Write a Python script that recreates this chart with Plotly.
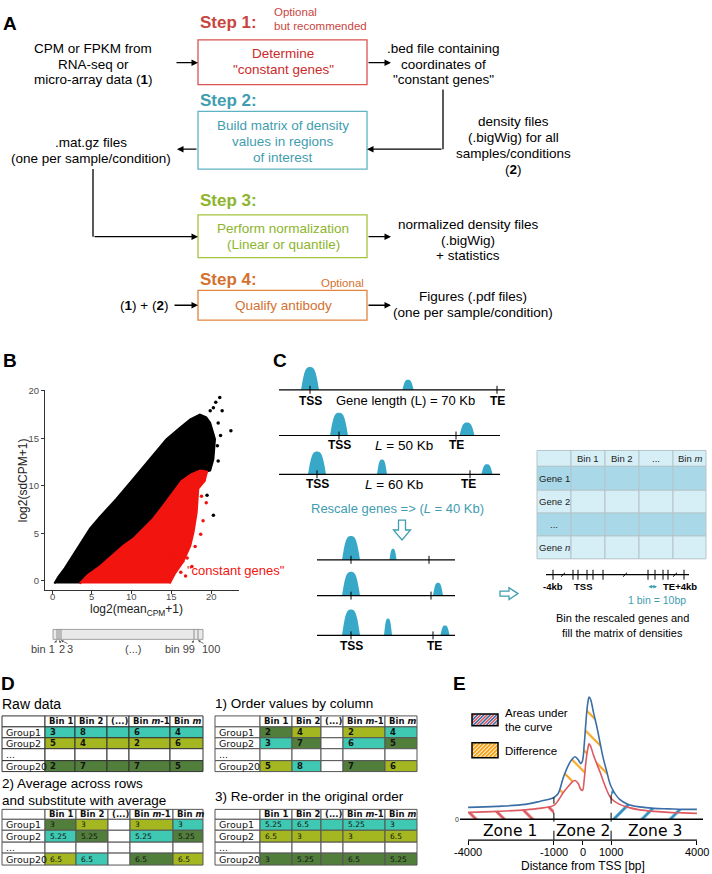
import plotly.graph_objects as go

W, H = 712, 874
SANS = "Liberation Sans, Arial, sans-serif"
DJV = "DejaVu Sans, Verdana, sans-serif"

# ===================== DATA =====================
# Panel B: outlines of the dense point clouds + isolated points
black_cloud_x = [0.3, 0.8, 1.6, 2.3, 3.1, 4.8, 6.0, 8.1, 10.2, 12.3, 14.4, 16.1, 17.4, 18.6, 19.4, 19.9, 20.5,
                 20.3, 19.9, 19.5, 18.6, 17.5, 16.3, 15.3, 14.0, 12.7, 11.5, 10.2, 9.0, 7.5, 6.0, 4.5, 3.5]
black_cloud_y = [-0.3, 0.4, 1.3, 2.2, 3.2, 5.5, 6.7, 8.6, 10.7, 12.8, 14.9, 16.1, 17.0, 17.5, 17.2, 16.6, 14.9,
                 12.8, 11.6, 11.5, 11.6, 11.2, 10.5, 9.3, 7.9, 6.5, 5.5, 4.4, 3.7, 2.6, 1.5, 0.6, -0.3]
red_cloud_x = [3.5, 4.5, 6.0, 7.5, 9.0, 10.2, 11.5, 12.7, 14.0, 15.3, 16.3, 17.5, 18.6, 19.5, 19.2, 18.4, 18.2,
               17.8, 17.4, 16.5, 15.5, 14.8]
red_cloud_y = [-0.3, 0.6, 1.5, 2.6, 3.7, 4.4, 5.5, 6.5, 7.9, 9.3, 10.5, 11.2, 11.6, 11.5, 10.5, 9.7, 7.2,
               5.1, 3.7, 2.0, 0.8, -0.3]
black_pts_x = [21.1, 20.6, 21.4, 20.3, 20.9, 22.5, 20.3, 19.5, 20.8, 21.2, 19.9, 20.9]
black_pts_y = [19.3, 18.8, 17.9, 18.2, 16.6, 15.8, 6.9, 9.0, 14.2, 15.3, 17.9, 12.6]
red_pts_x = [14.6, 16.2, 17.0, 18.0, 18.7, 19.0, 19.4, 18.8, 13.8, 17.6, 19.1, 16.8]
red_pts_y = [0.1, 0.9, 2.4, 3.6, 4.9, 6.3, 8.2, 8.9, 0.0, 1.5, 10.6, 0.5]
b_ticks = [0, 5, 10, 15, 20]

# Panel C: matrix labels
c_cols = ["Bin 1", "Bin 2", "...", "Bin <i>m</i>"]
c_rows = ["Gene 1", "Gene 2", "...", "Gene <i>n</i>"]

# Panel D: tables
d_cols = ["Bin 1", "Bin 2", "(...)", "Bin <i>m</i>-1", "Bin <i>m</i>"]
d_rows = ["Group1", "Group2", "...", "Group20"]
raw_vals = [["3", "8", "", "6", "4"], ["5", "4", "", "2", "6"], ["", "", "", "", ""], ["2", "7", "", "7", "5"]]
raw_fill = [["T"] * 5, ["Y"] * 5, ["W"] * 5, ["G"] * 5]
sort_vals = [["2", "4", "", "2", "4"], ["3", "7", "", "6", "5"], ["", "", "", "", ""], ["5", "8", "", "7", "6"]]
sort_fill = [["G", "Y", "W", "Y", "T"], ["T", "G", "W", "T", "G"], ["W"] * 5, ["Y", "T", "W", "G", "Y"]]
avg_vals = [["3", "3", "", "3", "3"], ["5.25", "5.25", "", "5.25", "5.25"], ["", "", "", "", ""],
            ["6.5", "6.5", "", "6.5", "6.5"]]
avg_fill = [["G", "Y", "W", "Y", "T"], ["T", "G", "W", "T", "G"], ["W"] * 5, ["Y", "T", "W", "G", "Y"]]
reord_vals = [["5.25", "6.5", "", "5.25", "3"], ["6.5", "3", "", "3", "6.5"], ["", "", "", "", ""],
              ["3", "5.25", "", "6.5", "5.25"]]
reord_fill = [["T"] * 5, ["Y"] * 5, ["W"] * 5, ["G"] * 5]

# Panel E: profiles (distance from TSS in bp, density)
e_x = [-4000, -3000, -2000, -1500, -1000, -850, -670, -500, -380, -260, -150, -60, 0, 60, 120, 180, 230, 290,
       380, 510, 620, 720, 840, 1000, 1300, 1600, 2000, 2500, 3000, 3500, 4000]
e_blue = [1.2, 1.3, 1.5, 1.8, 2.2, 2.6, 4.2, 5.4, 6.0, 6.3, 6.0, 5.6, 5.9, 7.5, 9.8, 11.6, 12.3, 12.0,
          10.8, 9.2, 7.6, 6.2, 4.9, 3.3, 2.0, 1.5, 1.25, 1.1, 1.05, 1.0, 1.0]
e_red = [0.7, 0.8, 0.95, 1.1, 1.4, 1.9, 2.7, 3.3, 3.7, 3.9, 3.6, 3.0, 2.9, 4.0, 5.8, 7.0, 7.6, 7.3,
         6.5, 5.5, 4.7, 3.9, 3.0, 2.1, 1.5, 1.2, 0.95, 0.8, 0.7, 0.65, 0.6]
e_ticks = [-4000, -1000, 0, 1000, 4000]
zone_names = ["Zone 1", "Zone 2", "Zone 3"]
zone_centers = [-2535, 0, 2535]
zone_bounds = [-1000, 1000]

# ===================== HELPERS =====================
fig = go.Figure()
shapes, annots = [], []


def L(x0, y0, x1, y1, c="black", w=1.0, dash=None, xr="x", yr="y"):
    shapes.append(dict(type="line", x0=x0, y0=y0, x1=x1, y1=y1, xref=xr, yref=yr,
                       line=dict(color=c, width=w, dash=dash)))


def R(x0, y0, x1, y1, fill="rgba(0,0,0,0)", lc="black", lw=1.0):
    shapes.append(dict(type="rect", x0=x0, y0=y0, x1=x1, y1=y1, xref="x", yref="y",
                       fillcolor=fill, line=dict(color=lc, width=lw)))


def P(path, fill, lc=None, lw=0.0):
    shapes.append(dict(type="path", path=path, xref="x", yref="y", fillcolor=fill,
                       line=dict(color=lc or fill, width=lw)))


def T(x, y, s, size=13.5, c="black", xa="center", fam=SANS, ang=0, xr="x", yr="y"):
    annots.append(dict(x=x, y=y, xref=xr, yref=yr, text=s, showarrow=False, xanchor=xa,
                       yanchor="middle", textangle=ang, font=dict(size=size, color=c, family=fam)))


def A(x0, y0, x1, y1, c="black", w=1.3, size=1.0, side="end"):
    annots.append(dict(x=x1, y=y1, ax=x0, ay=y0, xref="x", yref="y", axref="x", ayref="y",
                       text="", showarrow=True, arrowhead=2, arrowsize=size, arrowwidth=w,
                       arrowcolor=c, arrowside=side, startarrowhead=2, startarrowsize=size))


def dom_x(a, b):
    return [a / W, b / W]


def dom_y(top, bottom):
    return [1 - bottom / H, 1 - top / H]


# canvas placeholder trace
fig.add_trace(go.Scatter(x=[0], y=[0], mode="markers", marker=dict(opacity=0), hoverinfo="skip",
                         xaxis="x", yaxis="y"))

# ===================== PANEL A =====================
RED, TEAL, GRN, ORG = "#c8453f", "#3f9db0", "#8db52c", "#d4712f"
T(10, 19, "<b>A</b>", 19)
T(198, 18, "<b>Step 1:</b>", 17, RED, xa="left")
T(272, 7, "Optional", 11.5, RED, xa="left")
T(272, 21, "but recommended", 11.5, RED, xa="left")
R(198, 35, 367, 80, lc="#d9534f", lw=1.3)
T(283, 49, "Determine", 13.5, "#cc2a2a")
T(283, 65, '"constant genes"', 13.5, "#cc2a2a")
for i, s in enumerate(["CPM or FPKM from", "RNA-seq or", "micro-array data (<b>1</b>)"]):
    T(93, 44 + 15.5 * i, s)
A(175, 58, 198, 58)
A(367, 58, 391, 58)
for i, s in enumerate([".bed file containing", "coordinates of", '"constant genes"']):
    T(443, 44 + 15.5 * i, s)

T(198, 96, "<b>Step 2:</b>", 17, TEAL, xa="left")
R(198, 107, 367, 165, lc="#5fb3c3", lw=1.3)
for i, s in enumerate(["Build matrix of density", "values in regions", "of interest"]):
    T(283, 121 + 16 * i, s, 13.5, TEAL)
for i, s in enumerate(["density files", "(.bigWig) for all", "samples/conditions", "(<b>2</b>)"]):
    T(513, 117 + 16 * i, s)
L(443, 85, 443, 145, w=1.3)
A(443, 145, 367, 145)
A(198, 145, 177, 145)
T(91, 138, ".mat.gz files")
T(91, 154, "(one per sample/condition)")
L(93, 165, 93, 233, w=1.3)
A(93, 233, 198, 233)

T(198, 197, "<b>Step 3:</b>", 17, GRN, xa="left")
R(198, 211, 367, 254, lc="#a5c43c", lw=1.3)
T(283, 225, "Perform normalization", 13.5, GRN)
T(283, 241, "(Linear or quantile)", 13.5, GRN)
A(367, 233, 391, 233)
for i, s in enumerate(["normalized density files", "(.bigWig)", "+ statistics"]):
    T(468, 221 + 15.5 * i, s)

T(198, 276, "<b>Step 4:</b>", 17, ORG, xa="left")
T(366, 280, "Optional", 11.5, ORG, xa="right")
R(198, 287, 367, 317, lc="#e0843f", lw=1.3)
T(283, 302, "Qualify antibody", 13.5, ORG)
T(144, 302, "(<b>1</b>) + (<b>2</b>)")
A(173, 302, 198, 302)
A(367, 302, 391, 302)
T(473, 293, "Figures (.pdf files)")
T(473, 309, "(one per sample/condition)")

# ===================== PANEL B =====================
T(10, 358, "<b>B</b>", 19)
BRED = "#f2140f"
fig.add_trace(go.Scatter(x=black_cloud_x, y=black_cloud_y, fill="toself", fillcolor="black", mode="lines",
                         line=dict(color="black", width=2), xaxis="x2", yaxis="y2", hoverinfo="skip"))
fig.add_trace(go.Scatter(x=red_cloud_x, y=red_cloud_y, fill="toself", fillcolor=BRED, mode="lines",
                         line=dict(color=BRED, width=2), xaxis="x2", yaxis="y2", hoverinfo="skip"))
fig.add_trace(go.Scatter(x=black_pts_x, y=black_pts_y, mode="markers", marker=dict(size=3.5, color="black"),
                         xaxis="x2", yaxis="y2", hoverinfo="skip"))
fig.add_trace(go.Scatter(x=red_pts_x, y=red_pts_y, mode="markers", marker=dict(size=3.5, color=BRED),
                         xaxis="x2", yaxis="y2", hoverinfo="skip"))
for v in b_ticks:
    T(v, 595, str(v), 9.5, "#4d4d4d", xr="x2", yr="y")
T(23, 478, "log2(sdCPM+1)", 12, "#222", ang=-90)
T(136, 608, "log2(mean<sub>CPM</sub>+1)", 12, "#222")
T(236, 569, '"constant genes"', 13, BRED)
A(186, 561, 163, 550, c=BRED, w=1.2, size=0.8)
# bin bar
R(53, 628, 203, 638, fill="#e9e9e9", lc="#8a8a8a", lw=0.8)
for xb in [57, 59, 61, 194, 198]:
    L(xb, 628, xb, 638, "#777", 0.8)
for xt, s in [(43, "bin 1"), (62, "2"), (70, "3"), (133, "(...)"), (180, "bin 99"), (211, "100")]:
    T(xt, 648, s, 11, "#444")
for (x0, y0, x1, y1) in [(53, 643, 57, 639), (62, 643, 59, 639), (69, 643, 61, 639), (191, 643, 194, 639),
                         (205, 643, 198, 639)]:
    A(x0, y0, x1, y1, c="#555", w=0.8, size=0.6)

# ===================== PANEL C =====================
T(280, 358, "<b>C</b>", 19)
PEAK = "#38a8c8"
genes_before = [
    dict(y=387, x0=279, x1=505, ticks=[310, 497], peaks=[(310, 18, 23), (408, 11, 10)]),
    dict(y=433, x0=279, x1=500, ticks=[339, 456], peaks=[(339, 18, 23), (467, 15, 13)]),
    dict(y=472, x0=279, x1=500, ticks=[317, 470], peaks=[(317, 18, 23), (382, 10, 15), (487, 11, 10)]),
]
genes_after = [
    dict(y=558, x0=317, x1=455, ticks=[351, 429], peaks=[(351, 18, 24), (393, 7, 11)]),
    dict(y=594, x0=317, x1=455, ticks=[351, 431], peaks=[(351, 18, 24), (438, 10, 13)]),
    dict(y=634, x0=317, x1=455, ticks=[351, 433], peaks=[(351, 18, 26), (388, 8, 17), (445, 9, 10)]),
]


def bump(cx, y, w, h):
    x0, x1 = cx - w / 2, cx + w / 2
    return (f"M {x0},{y} C {x0 + 0.18 * w},{y - 0.85 * h} {cx - 0.25 * w},{y - h} {cx},{y - h} "
            f"C {cx + 0.25 * w},{y - h} {x1 - 0.18 * w},{y - 0.85 * h} {x1},{y} Z")


for g in genes_before + genes_after:
    for (cx, w, h) in g["peaks"]:
        P(bump(cx, g["y"], w, h), PEAK)
    L(g["x0"], g["y"], g["x1"], g["y"], w=1.2)
    for tx in g["ticks"]:
        L(tx, g["y"] - 4, tx, g["y"] + 4, w=1)

T(310, 398, "<b>TSS</b>", 12)
T(405, 398, "Gene length (L) = 70 Kb", 13)
T(497, 398, "<b>TE</b>", 12)
T(339, 443, "<b>TSS</b>", 12)
T(404, 443, "<i>L</i> = 50 Kb", 13.5)
T(456, 443, "<b>TE</b>", 12)
T(317, 482, "<b>TSS</b>", 12)
T(394, 482, "<i>L</i> = 60 Kb", 13.5)
T(468, 482, "<b>TE</b>", 12)
T(397, 506, "Rescale genes => (<i>L</i> = 40 Kb)", 13, TEAL)
T(351, 645, "<b>TSS</b>", 12)
T(434, 645, "<b>TE</b>", 12)
# hollow arrows
P("M 398.5,518 L 405.5,518 L 405.5,528 L 410.5,528 L 402,538 L 393.5,528 L 398.5,528 Z", "white", TEAL, 1.3)
P("M 500,589.5 L 509,589.5 L 509,586 L 518,592 L 509,598 L 509,594.5 L 500,594.5 Z", "white", TEAL, 1.3)

# matrix
mx = [537, 571, 605, 639, 673, 706]
my = [448, 464, 488, 511, 534, 557]
LIGHT, DARK = "#d6eef6", "#a9d9e9"
row_fill = [LIGHT, DARK, LIGHT, DARK, LIGHT]
for i in range(5):
    for j in range(5):
        R(mx[j], my[i], mx[j + 1], my[i + 1], fill=row_fill[i], lc="#b4c4ca", lw=1)
for j, s in enumerate(c_cols):
    T((mx[j + 1] + mx[j + 2]) / 2, (my[0] + my[1]) / 2, s, 9.5, "#222")
for i, s in enumerate(c_rows):
    T((mx[0] + mx[1]) / 2, (my[i + 1] + my[i + 2]) / 2, s, 9.5, "#222")

# bin axis
L(546, 573, 689, 573, w=1.2)
for tx in [553, 573, 578, 587, 593, 603, 648, 655, 663, 668, 684]:
    L(tx, 568, tx, 578, w=1)
for bx in [563, 625, 675]:
    L(bx - 2, 575, bx + 2, 571, w=1)
T(553, 585, "<b>-4kb</b>", 9.5)
T(583, 585, "<b>TSS</b>", 9.5)
T(680, 585, "<b>TE+4kb</b>", 9.5)
A(647, 585, 657, 585, c=TEAL, w=1.2, size=0.6, side="end+start")
T(657, 598, "1 bin = 10bp", 10.5, TEAL)
T(622, 617, "Bin the rescaled genes and", 11)
T(622, 632, "fill the matrix of densities", 11)

# ===================== PANEL D =====================
T(8, 682, "<b>D</b>", 19)
T(0, 703, "Raw data", 14, xa="left")
T(213, 703, "1) Order values by column", 13.5, xa="left")
T(0, 783, "2) Average across rows", 13.5, xa="left")
T(0, 800, "and substitute with average", 13.5, xa="left")
T(213, 796, "3) Re-order in the original order", 13.5, xa="left")

CELL = {"T": "#3fc8b2", "Y": "#a4b720", "G": "#527e3c", "W": "white"}


def table(xe, ye, vals, fills, vsize, vbold, lc):
    for j in range(6):
        R(xe[j], ye[0], xe[j + 1], ye[1], fill="white", lc=lc, lw=1)
        if j > 0:
            T(xe[j] + 2, (ye[0] + ye[1]) / 2, "<b>" + d_cols[j - 1] + "</b>", 8.5, "#111", xa="left", fam=DJV)
    for i in range(4):
        ym = (ye[i + 1] + ye[i + 2]) / 2
        R(xe[0], ye[i + 1], xe[1], ye[i + 2], fill="white", lc=lc, lw=1)
        T(xe[0] + 1.5, ym, d_rows[i], 9.5, "#111", xa="left", fam=DJV)
        for j in range(5):
            R(xe[j + 1], ye[i + 1], xe[j + 2], ye[i + 2], fill=CELL[fills[i][j]], lc=lc, lw=1)
            if vals[i][j]:
                s = "<b>" + vals[i][j] + "</b>" if vbold else vals[i][j]
                T(xe[j + 1] + 3, ym, s, vsize, "#111", xa="left", fam=DJV)


table([2, 45, 75, 107, 129, 170, 203], [715, 726, 737, 748, 760, 771], raw_vals, raw_fill, 8.5, True, "#333")
table([215, 260, 292, 321, 343, 385, 417], [715, 726, 737, 748, 760, 771], sort_vals, sort_fill, 8.5, True, "#555")
table([2, 45, 76, 108, 130, 173, 203], [809, 819, 830, 842, 853, 865], avg_vals, avg_fill, 7.5, False, "#555")
table([215, 260, 292, 321, 343, 385, 417], [809, 819, 830, 842, 853, 865], reord_vals, reord_fill, 7.5, False,
      "#555")

# ===================== PANEL E =====================
T(459, 682, "<b>E</b>", 19)
EBLUE, ERED, EORG, EHB = "#3b6ea6", "#dc5a60", "#f5a41c", "#2f8fc0"
i_lo, i_hi = e_x.index(zone_bounds[0]), e_x.index(zone_bounds[1])
common = dict(xaxis="x3", yaxis="y3", mode="lines", hoverinfo="skip", line_shape="spline")


def hatch(shape, color, size):
    return dict(shape=shape, fgcolor=color, fgopacity=1, bgcolor="rgba(0,0,0,0)", size=size, solidity=0.14,
                fillmode="overlay")


fig.add_trace(go.Scatter(x=e_x[:i_lo + 1], y=e_red[:i_lo + 1], fill="tozeroy", fillcolor="rgba(0,0,0,0)",
                         fillpattern=hatch("\\", ERED, 20), line=dict(width=0, color=ERED), **common))
fig.add_trace(go.Scatter(x=e_x[i_lo:i_hi + 1], y=e_red[i_lo:i_hi + 1], line=dict(width=0, color=ERED), **common))
fig.add_trace(go.Scatter(x=e_x[i_lo:i_hi + 1], y=e_blue[i_lo:i_hi + 1], fill="tonexty", fillcolor="rgba(0,0,0,0)",
                         fillpattern=hatch("\\", EORG, 15), line=dict(width=0, color=EORG), **common))
fig.add_trace(go.Scatter(x=e_x[i_hi:], y=e_blue[i_hi:], fill="tozeroy", fillcolor="rgba(0,0,0,0)",
                         fillpattern=hatch("/", EHB, 20), line=dict(width=0, color=EHB), **common))
fig.add_trace(go.Scatter(x=e_x, y=e_red, line=dict(width=1.6, color=ERED), **common))
fig.add_trace(go.Scatter(x=e_x, y=e_blue, line=dict(width=1.6, color=EBLUE), **common))
L(-4283, 0, 4213, 0, w=1.4, xr="x3", yr="y3")
L(zone_bounds[0], -2.05, zone_bounds[0], e_blue[i_lo], w=1, dash="dash", xr="x3", yr="y3")
L(zone_bounds[1], -2.05, zone_bounds[1], e_blue[i_hi], w=1, dash="dash", xr="x3", yr="y3")
L(468, 840, 697, 840, w=1.2)
for zc, zn in zip(zone_centers, zone_names):
    T(zc, -1.2, zn, 15.5, fam=DJV, xr="x3", yr="y3")
for v in e_ticks:
    T(v, 852, str(v), 11, xr="x3", yr="y")
T(583, 866, "Distance from TSS [bp]", 12)

# legend swatches
seg_bx, seg_by, seg_rx, seg_ry = [], [], [], []
for n in range(13):
    k = -12 + 3.2 * n
    if n % 2 == 0:
        seg_bx += [k, k + 12, None]; seg_by += [0, 12, None]
    else:
        seg_rx += [k, k + 12, None]; seg_ry += [0, 12, None]
fig.add_trace(go.Scatter(x=seg_bx, y=seg_by, mode="lines", line=dict(color=EBLUE, width=1.6),
                         xaxis="x4", yaxis="y4", hoverinfo="skip"))
fig.add_trace(go.Scatter(x=seg_rx, y=seg_ry, mode="lines", line=dict(color=ERED, width=1.6),
                         xaxis="x4", yaxis="y4", hoverinfo="skip"))
seg_ox, seg_oy = [], []
for n in range(11):
    k = -15 + 4 * n
    seg_ox += [k, k + 15, None]; seg_oy += [0, 15, None]
fig.add_trace(go.Scatter(x=seg_ox, y=seg_oy, mode="lines", line=dict(color=EORG, width=2),
                         xaxis="x5", yaxis="y5", hoverinfo="skip"))
R(472, 713, 498, 725, lw=1.5)
R(472, 742, 498, 757, lw=1.5)
T(503, 712, "Areas under", 11.5, xa="left")
T(503, 726, "the curve", 11.5, xa="left")
T(503, 750, "Difference", 11.5, xa="left")

# ===================== LAYOUT =====================
hidden = dict(visible=False, showgrid=False, zeroline=False, fixedrange=True)
fig.update_layout(
    width=W, height=H, margin=dict(l=0, r=0, t=0, b=0),
    paper_bgcolor="white", plot_bgcolor="rgba(0,0,0,0)", showlegend=False,
    xaxis=dict(domain=[0, 1], range=[0, W], **hidden),
    yaxis=dict(domain=[0, 1], range=[H, 0], **hidden),
    xaxis2=dict(domain=dom_x(45, 239), range=[-0.88, 23.52], anchor="y2", showline=True, linecolor="#333",
                linewidth=1, ticks="outside", ticklen=3, tickcolor="#333", tickvals=b_ticks,
                showticklabels=False, showgrid=False, zeroline=False),
    yaxis2=dict(domain=dom_y(387, 588), range=[-0.94, 20.1], anchor="x2", showline=True, linecolor="#333",
                linewidth=1, ticks="outside", ticklen=3, tickcolor="#333", tickvals=b_ticks,
                tickfont=dict(size=9.5, color="#4d4d4d", family=SANS), showgrid=False, zeroline=False),
    xaxis3=dict(domain=dom_x(460, 703), range=[-4283, 4213], anchor="y3", showline=False, ticks="outside",
                ticklen=4, tickcolor="black", tickvals=e_ticks, showticklabels=False,
                showgrid=False, zeroline=False),
    yaxis3=dict(domain=dom_y(689, 840), range=[-2.1, 13], anchor="x3", showline=False, ticks="",
                tickvals=[0], ticktext=["0"], tickfont=dict(size=7, color="#333", family=SANS),
                showgrid=False, zeroline=False),
    xaxis4=dict(domain=dom_x(472, 498), range=[0, 26], anchor="y4", **hidden),
    yaxis4=dict(domain=dom_y(713, 725), range=[0, 12], anchor="x4", **hidden),
    xaxis5=dict(domain=dom_x(472, 498), range=[0, 26], anchor="y5", **hidden),
    yaxis5=dict(domain=dom_y(742, 757), range=[0, 15], anchor="x5", **hidden),
    shapes=shapes, annotations=annots,
)
fig.write_html("out.html", config={"displayModeBar": False},
               post_script="document.body.style.margin='0px';document.body.style.padding='0px';")
